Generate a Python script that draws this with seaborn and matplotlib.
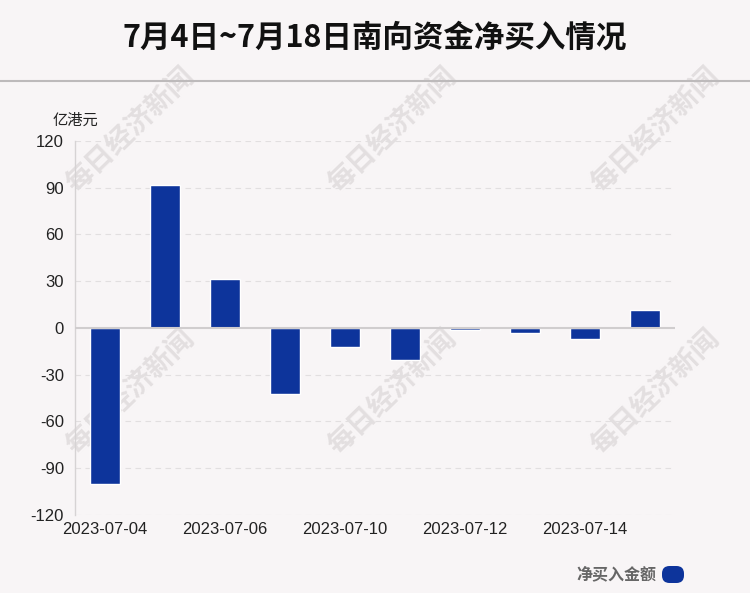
import matplotlib
matplotlib.use("Agg")
import matplotlib.pyplot as plt
import seaborn as sns
import pandas as pd
from matplotlib.patches import FancyBboxPatch

# Data
dates = ["2023-07-04", "2023-07-05", "2023-07-06", "2023-07-07", "2023-07-10",
         "2023-07-11", "2023-07-12", "2023-07-13", "2023-07-14", "2023-07-17"]
net_buy = [-100.0, 91.5, 31.5, -42.2, -12.0, -20.6, -1.0, -3.3, -6.8, 11.6]
yticks = [-120, -90, -60, -30, 0, 30, 60, 90, 120]

df = pd.DataFrame({"date": dates, "value": net_buy})

bg = "#f8f5f6"
bar_color = "#0d349b"

sns.set_style("white")
plt.rcParams["font.family"] = ["Liberation Sans", "Noto Sans CJK SC", "DejaVu Sans"]

fig = plt.figure(figsize=(7.5, 5.93), dpi=100, facecolor=bg)
ax = fig.add_axes([75 / 750, 1 - 515 / 593, 600 / 750, 374 / 593])
ax.set_zorder(2)
ax.patch.set_alpha(0)

sns.barplot(data=df, x="date", y="value", color=bar_color, width=0.5,
            saturation=1, ax=ax, zorder=3)

ax.set_ylim(-120, 120)
ax.set_xlim(-0.5, len(dates) - 0.5)
ax.set_yticks(yticks)
ax.set_yticklabels([str(t) for t in yticks], fontsize=12, color="#222222")
ax.set_xticks(range(0, len(dates), 2))
ax.set_xticklabels(dates[::2], fontsize=12, color="#222222")
ax.tick_params(axis="x", length=0, pad=5)
ax.tick_params(axis="y", length=0, pad=8)
ax.set_xlabel("")
ax.set_ylabel("")

for t in yticks:
    if t != 0:
        ax.axhline(t, color="#e2dfe0", lw=0.8, ls=(0, (5, 4)), zorder=1)
ax.axhline(0, color="#d0cdce", lw=1.5, zorder=4)

for side in ["top", "right", "bottom"]:
    ax.spines[side].set_visible(False)
ax.spines["left"].set_color("#d6d3d4")
ax.spines["left"].set_linewidth(1)

# Title and divider
fig.text(0.5, 1 - 38 / 593, "7月4日~7月18日南向资金净买入情况", ha="center", va="center",
         fontsize=22, fontweight="bold", family=["Noto Sans CJK SC"], color="#111111")
fig.add_artist(plt.Line2D([0, 1], [1 - 81 / 593, 1 - 81 / 593], color="#bdbabb", lw=1.5))

# Unit label
fig.text(75 / 750, 1 - 120 / 593, "亿港元", ha="center", va="center", fontsize=11,
         family=["Noto Sans CJK SC"], color="#222222")

# Watermarks
for (x, y) in [(131, 131), (393, 131), (656, 131), (131, 393), (393, 393), (656, 393)]:
    fig.text(x / 750, 1 - y / 593, "每日经济新闻", ha="center", va="center", fontsize=20,
             rotation=44, rotation_mode="anchor", color="#e3dfe0", fontweight="bold",
             family=["Noto Sans CJK SC"], zorder=0)

# Legend
fig.text(656 / 750, 1 - 574 / 593, "净买入金额", ha="right", va="center", fontsize=11.5,
         fontweight="bold", family=["Noto Sans CJK SC"], color="#666666")
fig.add_artist(FancyBboxPatch((6.62, 0.10), 0.22, 0.17,
                              boxstyle="round,pad=0,rounding_size=0.075",
                              transform=fig.dpi_scale_trans, facecolor=bar_color,
                              edgecolor="none"))

fig.savefig("out.png", dpi=100, facecolor=bg)
